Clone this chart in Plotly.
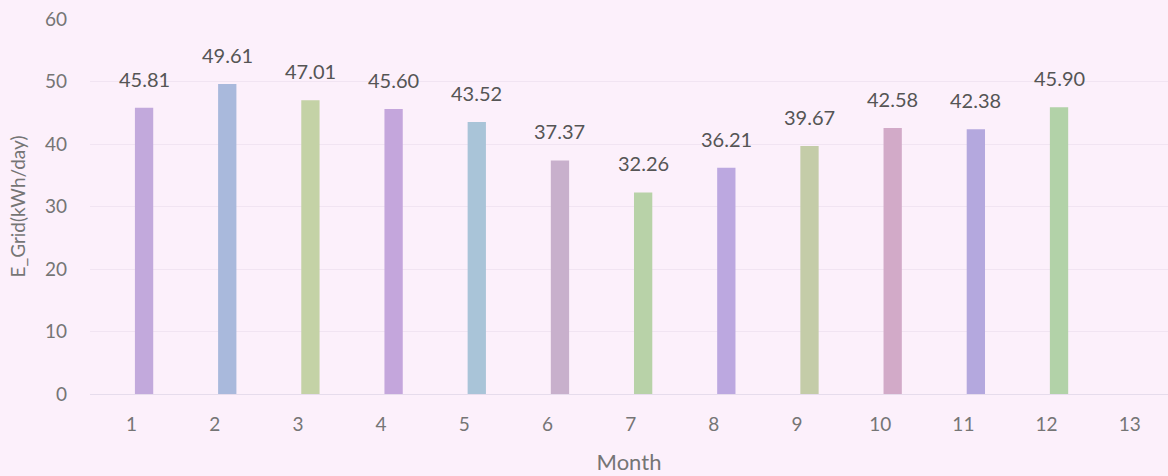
import plotly.graph_objects as go

months = [1, 2, 3, 4, 5, 6, 7, 8, 9, 10, 11, 12]
e_grid = [45.81, 49.61, 47.01, 45.60, 43.52, 37.37, 32.26, 36.21, 39.67, 42.58, 42.38, 45.90]
x_ticks = list(range(1, 14))
y_ticks = [0, 10, 20, 30, 40, 50, 60]

bar_colors = ["#c2a9dc", "#a9b9dc", "#c4d2a6", "#c4a6dc", "#a9c4d8", "#c8b0cc",
              "#b8d2a8", "#bca8e0", "#c4cca8", "#d2aac8", "#b4a8de", "#b2d2a8"]

FONT = "Lato, Open Sans, sans-serif"

fig = go.Figure()
fig.add_trace(go.Bar(
    x=months, y=e_grid, width=0.22, offset=0.04,
    marker=dict(color=bar_colors, line=dict(width=0)),
    hoverinfo="x+y",
))

for m, v in zip(months, e_grid):
    fig.add_annotation(x=m + 0.15, y=v, text=f"{v:.2f}", showarrow=False,
                       yshift=29, font=dict(size=20, color="#555555", family=FONT))

fig.update_layout(
    width=1168, height=476,
    paper_bgcolor="#fcf0fb", plot_bgcolor="#fcf0fb",
    margin=dict(l=90, r=0, t=19, b=82),
    showlegend=False,
    font=dict(family=FONT, color="#666666"),
    xaxis=dict(range=[0.5, 13.46], tickvals=x_ticks, ticktext=[str(t) for t in x_ticks],
               automargin=False,
               showgrid=False, zeroline=False, showline=True, linecolor="#e6dcec",
               linewidth=1, ticks="", tickfont=dict(size=19, color="#757575"),
               ticklabelstandoff=13,
               title=dict(text="Month", font=dict(size=22, color="#757575"), standoff=20)),
    yaxis=dict(range=[0, 60], tickvals=y_ticks, showgrid=True, gridcolor="#f1e4f2",
               automargin=False,
               zeroline=False, ticks="", tickfont=dict(size=19, color="#757575"),
               ticklabelstandoff=22,
               title=dict(text="E_Grid(kWh/day)", font=dict(size=19, color="#757575"),
                          standoff=14)),
)

fig.write_html("out.html",
               config={"displayModeBar": False},
               post_script="document.body.style.margin='0';document.body.style.overflow='hidden';")
